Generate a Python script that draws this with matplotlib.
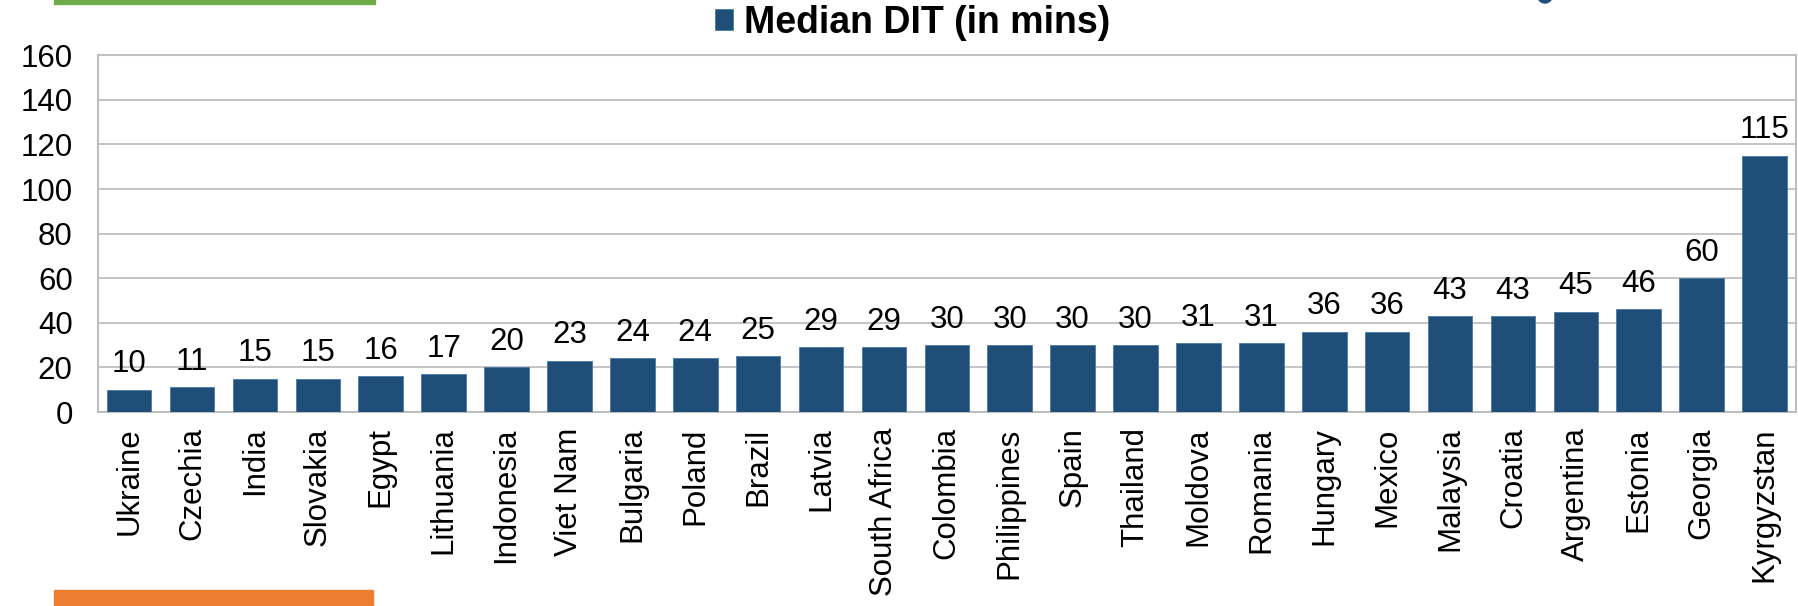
import matplotlib.pyplot as plt
from matplotlib.patches import Rectangle, Ellipse

plt.rcParams['font.family'] = ['Liberation Sans', 'DejaVu Sans']

# data
countries = ['Ukraine', 'Czechia', 'India', 'Slovakia', 'Egypt', 'Lithuania', 'Indonesia',
             'Viet Nam', 'Bulgaria', 'Poland', 'Brazil', 'Latvia', 'South Africa', 'Colombia',
             'Philippines', 'Spain', 'Thailand', 'Moldova', 'Romania', 'Hungary', 'Mexico',
             'Malaysia', 'Croatia', 'Argentina', 'Estonia', 'Georgia', 'Kyrgyzstan']
median_dit = [10, 11, 15, 15, 16, 17, 20, 23, 24, 24, 25, 29, 29, 30, 30, 30, 30, 31, 31,
              36, 36, 43, 43, 45, 46, 60, 115]
y_ticks = [0, 20, 40, 60, 80, 100, 120, 140, 160]
series_name = 'Median DIT (in mins)'

bar_color = '#1f4e79'
grid_color = '#bfbfbf'

W, H = 1798, 606
fig = plt.figure(figsize=(W / 100, H / 100), dpi=100)
ax = fig.add_axes([97.7 / W, 1 - 412 / H, (1796 - 97.7) / W, (412 - 55.3) / H])

x = range(len(countries))
bars = ax.bar(x, median_dit, width=0.71, color=bar_color, edgecolor='#4a7aa6',
              linewidth=0.6, zorder=3, label=series_name)

for xi, v in zip(x, median_dit):
    ax.annotate(str(v), (xi, v), xytext=(0, 12.5), textcoords='offset points',
                ha='center', va='baseline', fontsize=22.5, color='black')

ax.set_xlim(-0.5, len(countries) - 0.5)
ax.set_ylim(0, 160)
ax.set_yticks(y_ticks)
ax.set_xticks(list(x))
ax.set_xticklabels(countries, rotation=90, fontsize=22.5)
ax.tick_params(axis='x', length=0, pad=11)
ax.tick_params(axis='y', length=0, pad=18, labelsize=22.5)
ax.grid(axis='y', color=grid_color, linewidth=1.3, zorder=0)
for s in ax.spines.values():
    s.set_color(grid_color)
    s.set_linewidth(1.5)

# legend doubling as title
fig.legend(handles=[bars], labels=[series_name], loc='center',
           bbox_to_anchor=(913 / W, 1 - 23 / H), frameon=False,
           prop={'weight': 'bold', 'size': 27},
           handlelength=0.48, handleheight=0.48, handletextpad=0.3)

# decorative slide fragments
fig.patches.append(Rectangle((54 / W, 1 - 3.5 / H), (375 - 54) / W, 3.5 / H,
                             transform=fig.transFigure, color='#70ad47', zorder=5))
fig.patches.append(Rectangle((54 / W, 0), (373 - 54) / W, 16.5 / H,
                             transform=fig.transFigure, color='#ed7d31', zorder=5))
fig.patches.append(Ellipse((1545 / W, 1 + 6 / H), 16 / W, 18 / H,
                           transform=fig.transFigure, color=bar_color, zorder=5))

fig.savefig('out.png', dpi=100)
